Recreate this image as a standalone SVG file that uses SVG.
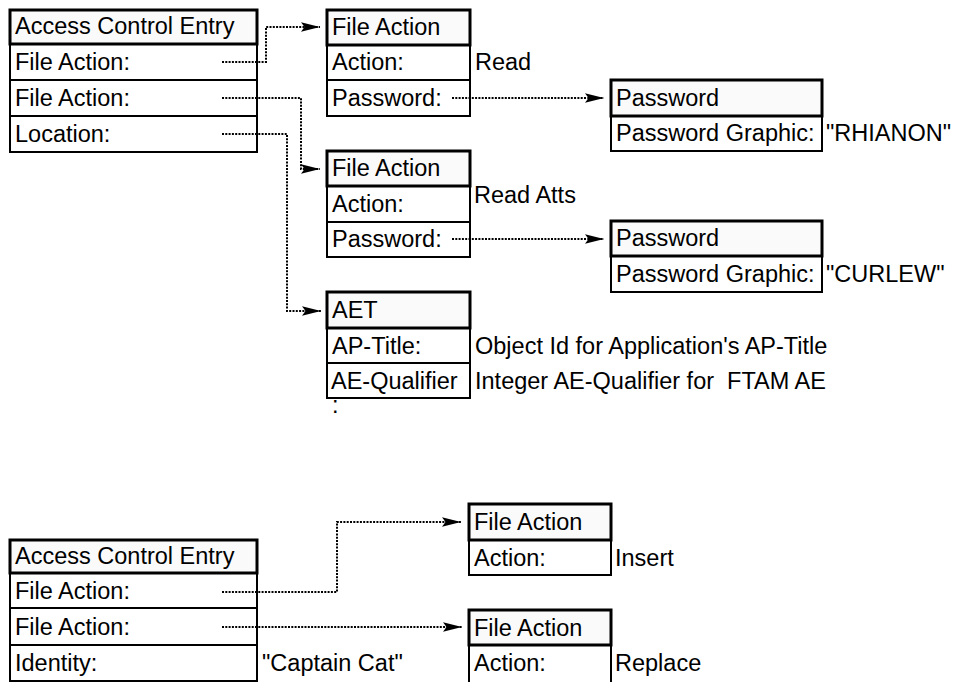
<svg xmlns="http://www.w3.org/2000/svg" width="953" height="682" viewBox="0 0 953 682">
<style>
  text { font-family: "Liberation Sans", Arial, sans-serif; font-size: 23.5px; fill: #000; }
  .hdr { fill: #fafafa; stroke: #000; stroke-width: 3; }
  .row { fill: #fff; stroke: #000; stroke-width: 2; }
  .conn { fill: none; stroke: #000; stroke-width: 2; stroke-dasharray: 2 1.3; }
</style>
<defs>
  <marker id="arr" markerUnits="userSpaceOnUse" markerWidth="20" markerHeight="12" refX="19" refY="6" orient="auto">
    <path d="M0,1.2 L19,6 L0,10.8 L3.5,6 z" fill="#000"/>
  </marker>
</defs>
<rect width="953" height="682" fill="#fff"/>

<g id="ace1">
  <rect class="row" x="10" y="44" width="247" height="36"/>
  <rect class="row" x="10" y="80" width="247" height="36"/>
  <rect class="row" x="10" y="116" width="247" height="36"/>
  <rect class="hdr" x="10" y="10" width="247" height="34"/>
  <text x="15" y="34">Access Control Entry</text>
  <text x="15" y="70">File Action:</text>
  <text x="15" y="106">File Action:</text>
  <text x="15" y="142">Location:</text>
</g>

<g id="fa1">
  <rect class="row" x="327" y="45" width="143" height="35"/>
  <rect class="row" x="327" y="80" width="143" height="36"/>
  <rect class="hdr" x="327" y="10" width="143" height="35"/>
  <text x="332" y="35">File Action</text>
  <text x="332" y="70">Action:</text>
  <text x="332" y="106">Password:</text>
  <text x="475" y="70">Read</text>
</g>

<g id="pw1">
  <rect class="row" x="611" y="116" width="211" height="35"/>
  <rect class="hdr" x="611" y="80" width="211" height="36"/>
  <text x="616" y="106">Password</text>
  <text x="616" y="141">Password Graphic:</text>
  <text x="826" y="141">"RHIANON"</text>
</g>

<g id="fa2">
  <rect class="row" x="327" y="186" width="143" height="36"/>
  <rect class="row" x="327" y="222" width="143" height="35"/>
  <rect class="hdr" x="327" y="151" width="143" height="35"/>
  <text x="332" y="176">File Action</text>
  <text x="332" y="212">Action:</text>
  <text x="332" y="247">Password:</text>
  <text x="474" y="203">Read Atts</text>
</g>

<g id="pw2">
  <rect class="row" x="611" y="256" width="211" height="36"/>
  <rect class="hdr" x="611" y="221" width="211" height="35"/>
  <text x="616" y="246">Password</text>
  <text x="616" y="282">Password Graphic:</text>
  <text x="826" y="282">"CURLEW"</text>
</g>

<g id="aet">
  <rect class="row" x="327" y="328" width="143" height="35"/>
  <rect class="row" x="327" y="363" width="143" height="35"/>
  <rect class="hdr" x="327" y="292" width="143" height="36"/>
  <text x="332" y="318">AET</text>
  <text x="332" y="354">AP-Title:</text>
  <text x="331" y="389">AE-Qualifier</text>
  <text x="475" y="354">Object Id for Application's AP-Title</text>
  <text x="475" y="389" xml:space="preserve">Integer AE-Qualifier for  FTAM AE</text>
  <text x="332" y="413">:</text>
</g>

<g id="ace2">
  <rect class="row" x="10" y="573" width="247" height="35"/>
  <rect class="row" x="10" y="608" width="247" height="37"/>
  <rect class="row" x="10" y="645" width="247" height="36"/>
  <rect class="hdr" x="10" y="540" width="247" height="33"/>
  <text x="15" y="564">Access Control Entry</text>
  <text x="15" y="599">File Action:</text>
  <text x="15" y="635">File Action:</text>
  <text x="15" y="671">Identity:</text>
  <text x="262" y="671">"Captain Cat"</text>
</g>

<g id="fa3">
  <rect class="row" x="469" y="540" width="142" height="35"/>
  <rect class="hdr" x="469" y="504" width="142" height="36"/>
  <text x="474" y="530">File Action</text>
  <text x="474" y="566">Action:</text>
  <text x="615" y="566">Insert</text>
</g>

<g id="fa4">
  <rect class="row" x="469" y="645" width="142" height="45"/>
  <rect class="hdr" x="469" y="610" width="142" height="35"/>
  <text x="474" y="636">File Action</text>
  <text x="474" y="671">Action:</text>
  <text x="615" y="671">Replace</text>
</g>

<g id="connectors">
  <path class="conn" d="M222,62 H266 V27 H320" marker-end="url(#arr)"/>
  <path class="conn" d="M222,98 H301 V169 H320" marker-end="url(#arr)"/>
  <path class="conn" d="M222,134 H287 V311 H321" marker-end="url(#arr)"/>
  <path class="conn" d="M452,98 H604" marker-end="url(#arr)"/>
  <path class="conn" d="M452,239 H604" marker-end="url(#arr)"/>
  <path class="conn" d="M222,592 H337 V522 H461" marker-end="url(#arr)"/>
  <path class="conn" d="M222,627 H462" marker-end="url(#arr)"/>
</g>
</svg>
